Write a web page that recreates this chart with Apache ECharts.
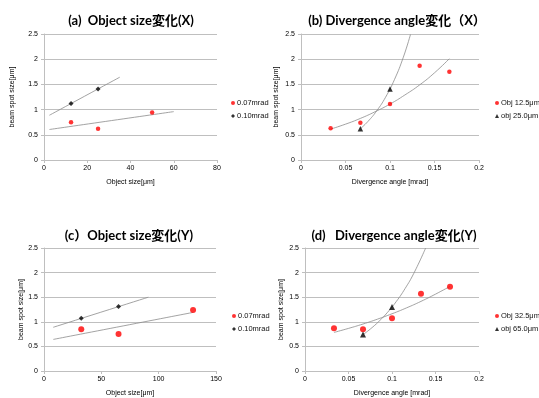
<!DOCTYPE html>
<html><head><meta charset="utf-8">
<script src="https://cdn.jsdelivr.net/npm/echarts@6/dist/echarts.min.js"></script>
<style>html,body{margin:0;padding:0;background:#fff}#c{width:539px;height:398px}</style>
</head><body><div id="c"></div>
<script>
// Panel (a) Object size X
const aRedX = [12.5, 25, 50], aRedY = [0.75, 0.62, 0.94];
const aBlkX = [12.5, 25], aBlkY = [1.12, 1.41];
const aRedTrendX = [2.5, 60], aRedTrendY = [0.605, 0.96];
const aBlkTrendX = [2.5, 35], aBlkTrendY = [0.888, 1.642];
// Panel (b) Divergence angle X
const bRedX = [0.0333, 0.0667, 0.1, 0.1333, 0.1667], bRedY = [0.63, 0.74, 1.11, 1.87, 1.75];
const bBlkX = [0.0667, 0.1], bBlkY = [0.62, 1.41];
const bRedTrendX = [0.0333, 0.05, 0.0667, 0.0833, 0.1, 0.1167, 0.1333, 0.15, 0.1667];
const bRedTrendY = [0.613, 0.711, 0.825, 0.958, 1.11, 1.29, 1.49, 1.73, 2.01];
const bBlkTrendX = [0.0667, 0.075, 0.085, 0.095, 0.105, 0.115, 0.123];
const bBlkTrendY = [0.62, 0.761, 0.974, 1.245, 1.595, 2.04, 2.49];
// Panel (c) Object size Y
const cRedX = [32.5, 65, 130], cRedY = [0.85, 0.75, 1.24];
const cBlkX = [32.5, 65], cBlkY = [1.07, 1.31];
const cRedTrendX = [8.1, 130], cRedTrendY = [0.642, 1.191];
const cBlkTrendX = [8.1, 91], cBlkTrendY = [0.889, 1.50];
// Panel (d) Divergence angle Y
const dRedX = [0.0333, 0.0667, 0.1, 0.1333, 0.1667], dRedY = [0.87, 0.85, 1.07, 1.57, 1.71];
const dBlkX = [0.0667, 0.1], dBlkY = [0.74, 1.30];
const dRedTrendX = [0.0333, 0.05, 0.0667, 0.0833, 0.1, 0.1167, 0.1333, 0.15, 0.1667];
const dRedTrendY = [0.784, 0.866, 0.955, 1.054, 1.163, 1.283, 1.415, 1.562, 1.72];
const dBlkTrendX = [0.0667, 0.075, 0.085, 0.095, 0.105, 0.115, 0.125, 0.1387];
const dBlkTrendY = [0.74, 0.852, 1.009, 1.195, 1.414, 1.675, 1.983, 2.5];

const titles = ['(a)  Object size変化(X)', '(b) Divergence angle変化（X）', '(c）Object size変化(Y)', '(d)   Divergence angle変化(Y)'];
const xNames = ['Object size[μm]', 'Divergence angle [mrad]', 'Object size[μm]', 'Divergence angle [mrad]'];
const yName = 'beam spot size[μm]';
const legendNames = [['0.07mrad', '0.10mrad'], ['Obj 12.5μm', 'obj 25.0μm'], ['0.07mrad', '0.10mrad'], ['Obj 32.5μm', 'obj 65.0μm']];
const xMax = [80, 0.2, 150, 0.2], xInt = [20, 0.05, 50, 0.05];

const zip = (xs, ys) => xs.map((x, i) => [x, ys[i]]);
const FONT = '"Liberation Sans", Arial, sans-serif';
const grids = [
  {left: 44, top: 34, width: 173, height: 126},
  {left: 301, top: 34, width: 178, height: 126},
  {left: 44, top: 248, width: 172, height: 123},
  {left: 305, top: 248, width: 174, height: 123}
];
const titlePos = [[126, 9], [392, 9], [124, 224], [389, 224]];
const legendPos = [[231, 99], [495, 99], [232, 312], [495, 312]];
const yNameGap = [28, 21, 19, 20];
const panels = [
  {red: zip(aRedX, aRedY), blk: zip(aBlkX, aBlkY), rt: zip(aRedTrendX, aRedTrendY), bt: zip(aBlkTrendX, aBlkTrendY), rs: 4.5, bsym: 'diamond', bs: 5},
  {red: zip(bRedX, bRedY), blk: zip(bBlkX, bBlkY), rt: zip(bRedTrendX, bRedTrendY), bt: zip(bBlkTrendX, bBlkTrendY), rs: 4.5, bsym: 'triangle', bs: 5.5},
  {red: zip(cRedX, cRedY), blk: zip(cBlkX, cBlkY), rt: zip(cRedTrendX, cRedTrendY), bt: zip(cBlkTrendX, cBlkTrendY), rs: 6, bsym: 'diamond', bs: 5},
  {red: zip(dRedX, dRedY), blk: zip(dBlkX, dBlkY), rt: zip(dRedTrendX, dRedTrendY), bt: zip(dBlkTrendX, dBlkTrendY), rs: 6, bsym: 'triangle', bs: 6}
];

const option = {
  animation: false,
  backgroundColor: '#fff',
  title: titles.map((t, i) => ({
    text: t, left: titlePos[i][0], top: titlePos[i][1], textAlign: 'center',
    textStyle: {fontSize: 13, fontWeight: 'bold', color: '#000', fontFamily: 'Lato, "Noto Sans CJK JP", sans-serif'}
  })),
  grid: grids,
  legend: legendNames.map((names, i) => ({
    data: names.map(n => ({name: n})), orient: 'vertical', left: legendPos[i][0], top: legendPos[i][1],
    itemWidth: 4, itemHeight: 4, itemGap: 5, padding: 0, selectedMode: false,
    textStyle: {fontSize: 7.5, color: '#111', fontFamily: FONT, padding: [0, 0, 0, -3]}
  })),
  xAxis: grids.map((g, i) => ({
    type: 'value', gridIndex: i, min: 0, max: xMax[i], interval: xInt[i],
    splitLine: {show: false},
    axisLine: {show: true, lineStyle: {color: '#bfbfbf'}},
    axisTick: {show: true, length: 3, lineStyle: {color: '#bfbfbf'}},
    axisLabel: {fontSize: 7, color: '#000', margin: 5, fontFamily: FONT},
    name: xNames[i], nameLocation: 'middle', nameGap: 19,
    nameTextStyle: {fontSize: 7, color: '#000', fontFamily: FONT}
  })),
  yAxis: grids.map((g, i) => ({
    type: 'value', gridIndex: i, min: 0, max: 2.5, interval: 0.5,
    splitLine: {show: true, lineStyle: {color: '#bfbfbf'}},
    axisLine: {show: true, lineStyle: {color: '#bfbfbf'}},
    axisTick: {show: true, length: 3, lineStyle: {color: '#bfbfbf'}},
    axisLabel: {fontSize: 7, color: '#000', margin: 6, fontFamily: FONT},
    name: yName, nameLocation: 'middle', nameGap: yNameGap[i], nameRotate: 90,
    nameTextStyle: {fontSize: 7, color: '#000', fontFamily: FONT}
  })),
  series: []
};
panels.forEach((p, i) => {
  const trend = (d) => ({type: 'line', xAxisIndex: i, yAxisIndex: i, data: d, showSymbol: false, symbol: 'none',
    smooth: true, lineStyle: {color: '#8c8c8c', width: 0.8}, z: 1, silent: true, clip: true});
  option.series.push(trend(p.rt), trend(p.bt));
  option.series.push({type: 'scatter', name: legendNames[i][0], xAxisIndex: i, yAxisIndex: i, data: p.red,
    symbol: 'circle', symbolSize: p.rs, itemStyle: {color: '#ff0000'}, z: 3});
  option.series.push({type: 'scatter', name: legendNames[i][1], xAxisIndex: i, yAxisIndex: i, data: p.blk,
    symbol: p.bsym, symbolSize: p.bs, itemStyle: {color: '#000'}, z: 3});
});
const chart = echarts.init(document.getElementById('c'), null, {renderer: 'canvas'});
chart.setOption(option);
</script></body></html>
